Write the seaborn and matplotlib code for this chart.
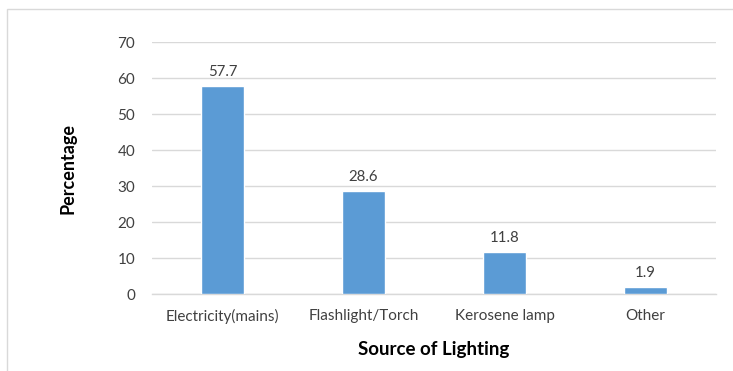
import matplotlib
matplotlib.use("Agg")
import matplotlib.pyplot as plt
import seaborn as sns
import pandas as pd
from matplotlib.patches import Rectangle

sources = ["Electricity(mains)", "Flashlight/Torch", "Kerosene lamp", "Other"]
percentages = [57.7, 28.6, 11.8, 1.9]
y_ticks = [0, 10, 20, 30, 40, 50, 60, 70]

sns.set_theme(style="white")
plt.rcParams["font.family"] = ["Lato", "DejaVu Sans"]

df = pd.DataFrame({"source": sources, "pct": percentages})

fig = plt.figure(figsize=(7.33, 3.71), dpi=100)
ax = fig.add_axes([152 / 733, 1 - 294 / 371, (716 - 152) / 733, (294 - 42) / 371])

sns.barplot(data=df, x="source", y="pct", color="#5B9BD5", saturation=1,
            width=0.31, ax=ax, zorder=3)

ax.set_ylim(0, 70)
ax.set_yticks(y_ticks)
ax.set_xlim(-0.5, len(sources) - 0.5)
ax.yaxis.grid(True, color="#D9D9D9", linewidth=1, zorder=0)
ax.set_axisbelow(True)
for side in ["left", "right", "top"]:
    ax.spines[side].set_visible(False)
ax.spines["bottom"].set_color("#D9D9D9")
ax.spines["bottom"].set_linewidth(1)
ax.tick_params(axis="both", length=0, labelsize=11, colors="#404040")
ax.tick_params(axis="y", pad=12)
ax.tick_params(axis="x", pad=11)

# value labels above each bar
for i, v in enumerate(percentages):
    ax.annotate(f"{v}", (i, v), xytext=(0, 5), textcoords="offset points",
                ha="center", va="bottom", fontsize=10.8, color="#404040")

ax.set_xlabel("Source of Lighting", fontsize=13.5, fontweight="bold",
              color="#000000", va="center")
ax.set_ylabel("Percentage", fontsize=13, fontweight="bold",
              color="#000000", va="center")
ax.xaxis.set_label_coords(0.5, (294 - 350) / 252)
ax.yaxis.set_label_coords((68 - 152) / 564, 0.5)

# thin frame around the chart area
fig.patches.append(Rectangle((7 / 733, -0.05), 1.2, 1 - 9 / 371 + 0.05,
                             transform=fig.transFigure, fill=False,
                             edgecolor="#D9D9D9", linewidth=1))

fig.savefig("out.png", dpi=100)
